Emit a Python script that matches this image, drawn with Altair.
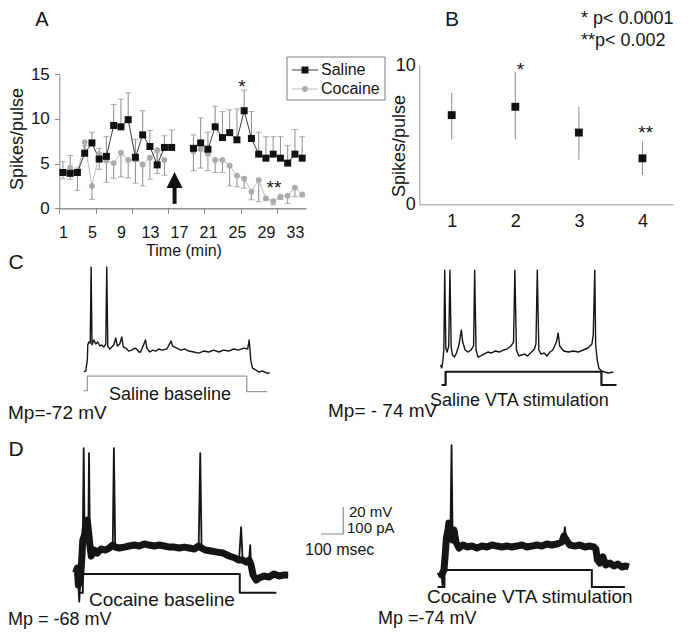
import altair as alt
import pandas as pd

FONT = "Liberation Sans"
INK = "#151515"
W, H, M = 672, 622, 8          # chart size and page margin
MS_PX, MV_PX, PA_PX = 0.222, 1.35, 0.27   # px per ms / mV / pA in the trace panels

# ---------------- Panel A: spikes per pulse over time ----------------
minutes = list(range(1, 35))
saline = [4.0, 3.9, 4.0, 6.15, 7.3, 5.5, 5.8, 9.25, 9.1, 9.9, 5.7, 8.2, 6.9, 4.85, 6.8, 6.8, None, None,
          6.7, 7.3, 6.6, 9.1, 7.9, 8.45, 7.65, 10.9, 7.8, 6.05, 5.6, 6.05, 5.6, 5.05, 6.05, 5.6]
saline_hi = [5.2, 5.9, 4.5, 7.0, 8.5, 6.7, 8.0, 11.6, 12.2, 12.9, 7.7, 10.9, 8.7, 6.3, 8.1, 8.75, None, None,
             8.2, 10.1, 8.5, 11.4, 10.8, 11.0, 11.1, 13.2, 10.8, 8.5, 8.0, 8.0, 8.0, 7.0, 8.8, 8.0]
cocaine = [4.0, 4.5, 4.0, 7.4, 2.5, 6.05, 5.3, 5.05, 6.2, 5.4, 5.45, 4.9, 5.65, 6.5, 5.4, None, None, None,
           6.35, 6.6, 6.1, 5.4, 5.4, 4.75, 3.65, 3.3, 1.85, 3.15, 1.1, 0.8, 1.3, 1.4, 2.3, 1.55]
cocaine_lo = [3.3, 3.25, 2.0, 6.2, 1.0, 4.35, 2.9, 3.35, 3.5, 3.4, 2.8, 2.5, 3.25, 3.9, 3.7, None, None, None,
              4.2, 4.5, 4.2, 4.0, 4.0, 2.5, 2.4, 2.25, 0.95, 0.75, 0.9, 0.4, 1.0, 0.55, 1.3, 1.3]
a_tick_labels = [1, 5, 9, 13, 17, 21, 25, 29, 33]
a_tick_marks = [0.5, 5.5, 10.5, 15.5, 20.5, 25.5, 30.5]
a_y_ticks = [0, 5, 10, 15]
a_stars = {"x": [25.7, 30.1], "y": [14.0, 2.7], "s": ["*", "**"]}
arrow = {"x": [16.4], "base": [0.5], "top": [2.4], "head": [3.15]}
legend_series = ["Saline", "Cocaine"]

# ---------------- Panel B ----------------
b_cond = [1, 2, 3, 4]
b_mean = [6.4, 7.0, 5.15, 3.3]
b_lo = [4.65, 4.65, 3.2, 2.1]
b_hi = [8.0, 9.5, 7.0, 4.5]
b_stars = {"x": [2.08, 4.05], "y": [9.9, 5.4], "s": ["*", "**"]}
p_values = ["* p< 0.0001", "**p< 0.002"]

# ---------------- Panels C, D: recordings (t ms, mV) ----------------
c_left = [(0, -72), (9, -71.5), (16, -63.3), (18, -52.2), (22.5, -50), (29, -50.8), (33, 5.5), (37, -52.2),
          (45, -48.5), (54, -51.5), (63, -50), (72, -53), (81, -52.2), (90, -53.7), (99, -51.5), (103.5, 5.5),
          (108, -53), (117, -55.2), (126, -53.7), (135, -52.2), (144, -47), (151, -53), (162, -51.5),
          (171, -46.3), (178, -53.7), (189, -54.5), (202, -56.7), (216, -56), (230, -54.5), (238, -55.2),
          (248, -57.4), (256, -57.4), (278, -48.5), (284, -54.5), (297, -57.4), (310, -56), (324, -56.7),
          (338, -55.2), (351, -56), (374, -55.2), (393, -49.3), (400, -53), (419, -54.5), (437, -56),
          (455, -55.2), (473, -56.7), (495, -57.4), (518, -58.2), (540, -56.7), (563, -57.4), (585, -56),
          (608, -57.4), (630, -56), (653, -56.7), (675, -55.2), (698, -56), (720, -54.5), (738, -55.2),
          (745, -48.5), (747, -52.2), (752, -63.3), (760, -69.3), (774, -70.7), (788, -72.2), (806, -71.5),
          (824, -73), (837, -73)]
c_left_current = [(-2, 0), (16, 0), (16, 54), (734, 54), (734, -3.7), (826, -3.7)]

c_right = [(0, -74), (6, -76.2), (11, -70.3), (15, -62.9), (19, -3.7), (24, -61.4), (30, -64.4), (37, -59.9),
           (42.5, -3.7), (48, -60.7), (54, -66.6), (63, -68.1), (72, -65.1), (83, -59.2), (94, -48.1),
           (100, -57), (111, -62.9), (125, -64.4), (137, -62.9), (149, -59.9), (154, -3.7), (160, -62.9),
           (169, -68.1), (181, -67.3), (195, -65.9), (213, -64.4), (230, -65.1), (248, -63.6), (265, -64.4),
           (283, -62.9), (300, -62.2), (318, -59.9), (329, -57), (335, -3.7), (342, -62.9), (353, -67.3),
           (366, -66.6), (379, -65.9), (392, -67.3), (410, -64.4), (423, -62.2), (430, -58.5), (436, -3.7),
           (443, -62.9), (453, -65.9), (467, -65.1), (480, -67.3), (493, -64.4), (506, -62.9), (522, -57),
           (530, -50.3), (537, -59.9), (555, -63.6), (576, -64.4), (599, -63.6), (620, -64.4), (643, -62.9),
           (664, -61.4), (682, -58.5), (688, -51.8), (695, -3.7), (699, -59.2), (706, -70.3), (713, -76.2),
           (725, -78.4), (739, -79.2), (757, -79.9), (778, -79.2)]
c_right_current = [(5, 0), (23, 0), (23, 49), (725, 49), (725, 0), (793, 0)]

d_left = [(0, -68), (7, -64.3), (12, -76.9), (16, -89.2), (21, -73.2), (27, -58.4), (32, -43.6), (36, 24.5),
          (40, -39.9), (45, -32.5), (52, -28.8), (57, -36.2), (60, 20.8), (64, -47.3), (70, -55.4), (84, -51),
          (97, -53.2), (115, -50.2), (133, -51), (151, -49.5), (167, -47.3), (172, 24.5), (178, -48.8),
          (196, -49.5), (219, -48.8), (241, -48), (264, -47.3), (286, -48), (309, -46.5), (331, -47.3),
          (354, -48), (376, -47.3), (399, -48), (421, -48.8), (444, -48.8), (466, -49.5), (489, -48.8),
          (511, -49.5), (534, -50.2), (554, -48), (561, 20.8), (567, -49.5), (583, -51), (610, -51.7),
          (637, -52.5), (664, -53.2), (691, -55.4), (718, -56.9), (736, -58.4), (745, -34), (752, -58.4),
          (768, -59.9), (781, -58.4), (786, -47.3), (790, -62.1), (799, -69.5), (813, -73.2), (826, -71.7),
          (848, -70.2), (871, -71), (893, -68.7), (916, -70.2), (939, -69.5), (957, -69.5)]
d_left_spikes = [16, 36, 60, 172, 561, 745, 786]
d_left_current = [(13, 0), (32, 0), (32, 69), (739, 69), (739, 0), (904, 0)]

d_right = [(0, -74), (7, -76.4), (12, -85.1), (18, -72.7), (25, -57.9), (29, -49.1), (36, -43.1), (40, -38),
           (47, -46.8), (52, 19.8), (57, -50.5), (63, -43.1), (72, -52), (85.5, -56.5), (103.5, -54.2),
           (121.5, -55.7), (144, -55), (166.5, -56.5), (189, -55), (211.5, -55.7), (234, -54.2), (256.5, -55),
           (279, -55.7), (301.5, -55), (324, -55.7), (346.5, -55), (369, -54.2), (391.5, -55.7), (414, -55),
           (436.5, -54.2), (459, -55), (481.5, -53.5), (504, -54.2), (526.5, -53.5), (549, -52), (558, -47.6),
           (562.5, -41), (569, -50.5), (585, -54.2), (607.5, -55), (630, -54.2), (652.5, -55.7), (675, -55),
           (693, -55.7), (702, -57.2), (709, -65.3), (720, -67.6), (733.5, -63.1), (747, -69), (765, -67.6),
           (783, -69.8), (801, -68.3), (819, -70.5), (837, -69.8), (850.5, -70.5)]
d_right_spikes = [12, 52, 562.5]
d_right_current = [(-11, 0), (20, 0), (20, 63), (684, 63), (684, 0), (833, 0)]

scale_bar = [(0, 0), (100, 0), (100, 20)]   # 100 msec, 20 mV / 100 pA
scale_labels = ["20 mV", "100 pA", "100 msec"]
trace_labels = ["Saline baseline", "Saline VTA stimulation", "Cocaine baseline", "Cocaine VTA  stimulation"]
mp_labels = ["Mp=-72 mV", "Mp= - 74 mV", "Mp = -68 mV", "Mp =-74 mV"]
panel_letters = ["A", "B", "C", "D"]


def sc(dom, lo, hi):
    return alt.Scale(domain=dom, range=[lo - M, hi - M], nice=False, zero=False)


def txt(s, x, y, size=18, align="left", angle=0, color=INK):
    return alt.Chart(pd.DataFrame({"s": [s]})).mark_text(
        align=align, baseline="middle", fontSize=size, font=FONT, angle=angle, color=color
    ).encode(text="s:N", x=alt.value(x - M), y=alt.value(y - M))


layers = []

# ---------- Panel A ----------
dfA = pd.DataFrame({"minute": minutes, "saline": saline, "saline_hi": saline_hi,
                    "cocaine": cocaine, "cocaine_lo": cocaine_lo})
dfA["seg"] = (dfA["minute"] > 17).astype(int)
AXs = sc([0.5, 34.5], 59.3, 305.8)
AYs = sc([0, 15], 208.3, 74)
bA = alt.Chart(dfA)


def xa(axis=None):
    return alt.X("minute:Q", scale=AXs, axis=axis)


def ya(f, axis=None):
    return alt.Y(f"{f}:Q", scale=AYs, axis=axis)


ERR = "#8c8c8c"
COC = "#ababab"
layers += [
    bA.transform_filter("isValid(datum.cocaine)").mark_rule(color=ERR, strokeWidth=1).encode(
        x=xa(), y=ya("cocaine_lo"), y2="cocaine:Q"),
    bA.transform_filter("isValid(datum.cocaine)").mark_tick(orient="horizontal", size=6, thickness=1, color=ERR).encode(
        x=xa(), y=ya("cocaine_lo")),
    bA.transform_filter("isValid(datum.saline)").mark_rule(color=ERR, strokeWidth=1).encode(
        x=xa(), y=ya("saline"), y2="saline_hi:Q"),
    bA.transform_filter("isValid(datum.saline)").mark_tick(orient="horizontal", size=6, thickness=1, color=ERR).encode(
        x=xa(), y=ya("saline_hi")),
    bA.transform_filter("isValid(datum.cocaine)").mark_line(color="#bdbdbd", strokeWidth=1).encode(
        x=xa(), y=ya("cocaine"), detail="seg:N"),
    bA.transform_filter("isValid(datum.saline)").mark_line(color="#3a3a3a", strokeWidth=1).encode(
        x=xa(), y=ya("saline"), detail="seg:N"),
    bA.transform_filter("isValid(datum.cocaine)").mark_point(shape="circle", filled=True, size=34, color=COC, opacity=1).encode(
        x=xa(), y=ya("cocaine")),
    bA.transform_filter("isValid(datum.saline)").mark_point(shape="square", filled=True, size=49, color="#111111", opacity=1).encode(
        x=xa(alt.Axis(orient="bottom", offset=208.3 - M - H, values=a_tick_labels, ticks=False, labelPadding=16,
                      labelFontSize=16, labelFont=FONT, labelColor=INK, labelFlush=False, domainColor="#8a8a8a",
                      grid=False, title=None)),
        y=ya("saline", alt.Axis(orient="left", offset=-(59.3 - M), values=a_y_ticks, tickSize=5, tickColor="#8a8a8a",
                                domainColor="#8a8a8a", labelFontSize=17, labelFont=FONT, labelColor=INK,
                                labelPadding=5, labelFlush=False, grid=False, title=None))),
    bA.mark_point(opacity=0).encode(
        x=xa(alt.Axis(orient="bottom", offset=208.3 - M - H, values=a_tick_marks, labels=False, tickSize=5,
                      tickColor="#8a8a8a", domainColor="#8a8a8a", grid=False, title=None)),
        y=ya("cocaine")),
]
dfArrow = pd.DataFrame(arrow)
bAr = alt.Chart(dfArrow)
layers += [
    bAr.mark_rule(color="#111", strokeWidth=4).encode(
        x=alt.X("x:Q", scale=AXs, axis=None), y=alt.Y("base:Q", scale=AYs, axis=None), y2="top:Q"),
    bAr.mark_point(shape="M0,-1L-1,1L1,1Z", filled=True, size=256, color="#111", opacity=1).encode(
        x=alt.X("x:Q", scale=AXs, axis=None), y=alt.Y("head:Q", scale=AYs, axis=None)),
    alt.Chart(pd.DataFrame(a_stars)).mark_text(fontSize=19, font=FONT, color=INK, baseline="middle", dy=4).encode(
        x=alt.X("x:Q", scale=AXs, axis=None), y=alt.Y("y:Q", scale=AYs, axis=None), text="s:N"),
]
layers += [txt("Spikes/pulse", 18, 139, 18, "center", 270), txt("Time (min)", 184, 251, 16, "center")]

# legend
layers.append(alt.Chart(pd.DataFrame({"a": [0]})).mark_rect(fill="white", stroke="#7a7a7a", strokeWidth=1).encode(
    x=alt.value(287 - M), x2=alt.value(385 - M), y=alt.value(57 - M), y2=alt.value(100 - M)))
leg_style = {"Saline": ("#3a3a3a", "square", "#111111", 49), "Cocaine": ("#bdbdbd", "circle", COC, 34)}
for k, name in enumerate(legend_series):
    yy = 70 + 19 * k
    lc, shp, pc, sz = leg_style[name]
    one = alt.Chart(pd.DataFrame({"s": [name]}))
    layers += [
        one.mark_rule(color=lc, strokeWidth=1).encode(x=alt.value(292 - M), x2=alt.value(318 - M), y=alt.value(yy - M)),
        one.mark_point(shape=shp, filled=True, size=sz, color=pc, opacity=1).encode(
            x=alt.value(305 - M), y=alt.value(yy - M)),
        one.mark_text(align="left", baseline="middle", fontSize=16, font=FONT, color=INK).encode(
            text="s:N", x=alt.value(321 - M), y=alt.value(yy - M)),
    ]

# ---------- Panel B ----------
dfB = pd.DataFrame({"cond": b_cond, "mean": b_mean, "lo": b_lo, "hi": b_hi})
BXs = sc([0.49, 4.48], 419.3, 673)
BYs = sc([0, 10], 204.3, 65)
bB = alt.Chart(dfB)
layers += [
    bB.mark_rule(color="#8a8a8a", strokeWidth=1).encode(
        x=alt.X("cond:Q", scale=BXs, axis=None), y=alt.Y("lo:Q", scale=BYs, axis=None), y2="hi:Q"),
    bB.mark_point(shape="square", filled=True, size=62, color="#111111", opacity=1).encode(
        x=alt.X("cond:Q", scale=BXs,
                axis=alt.Axis(orient="bottom", offset=204.3 - M - H, values=b_cond, ticks=False, labelPadding=8,
                              labelFontSize=18, labelFont=FONT, labelColor=INK, labelFlush=False,
                              domainColor="#9a9a9a", grid=False, title=None)),
        y=alt.Y("mean:Q", scale=BYs,
                axis=alt.Axis(orient="left", offset=-(419.3 - M), values=[0, 10], ticks=False, labelPadding=4,
                              labelFontSize=18, labelFont=FONT, labelColor=INK, labelFlush=False,
                              domainColor="#9a9a9a", grid=False, title=None))),
    alt.Chart(pd.DataFrame(b_stars)).mark_text(fontSize=19, font=FONT, color=INK, baseline="middle", dy=4).encode(
        x=alt.X("x:Q", scale=BXs, axis=None), y=alt.Y("y:Q", scale=BYs, axis=None), text="s:N"),
    txt("Spikes/pulse", 400, 146, 18, "center", 270),
    txt(p_values[0], 581, 19, 18), txt(p_values[1], 581, 41, 18),
]


# ---------- Panels C, D ----------
def trace(pairs, x0, y0, v0, per_px, color=INK, width=1.3, spikes=None, band=0):
    df = pd.DataFrame(pairs, columns=["t", "v"])
    df["i"] = range(len(df))
    df["spike"] = df["t"].isin(spikes or [])
    xs = sc([0, 1000], x0, x0 + 1000 * MS_PX)
    ys = sc([v0, v0 + 100], y0, y0 - 100 * per_px)
    enc = dict(x=alt.X("t:Q", scale=xs, axis=None), y=alt.Y("v:Q", scale=ys, axis=None), order="i:Q")
    out = []
    if band:
        out.append(alt.Chart(df).transform_filter("!datum.spike").mark_line(
            color=color, strokeWidth=band, strokeJoin="round").encode(**enc))
    out.append(alt.Chart(df).mark_line(color=color, strokeWidth=width, strokeJoin="round").encode(**enc))
    return out


layers += trace(c_left_current, 83.8, 390.7, 0, PA_PX, color="#9a9a9a", width=1.3)
layers += trace(c_left, 83.8, 371.7, -72, MV_PX, width=1.4)
layers += trace(c_right_current, 440.5, 385, 0, PA_PX, width=2.2)
layers += trace(c_right, 440.5, 365, -74, MV_PX, width=1.4)
layers += trace(d_left_current, 75.7, 592.7, 0, PA_PX, width=2.0)
layers += trace(d_left, 75.7, 573, -68, MV_PX, width=1.8, spikes=d_left_spikes, band=7)
layers += trace(d_right_current, 440, 587, 0, PA_PX, width=2.0)
layers += trace(d_right, 440, 571.7, -74, MV_PX, width=1.8, spikes=d_right_spikes, band=7)
layers += trace(scale_bar, 321, 534, 0, MV_PX, color="#8a8a8a", width=1.2)

layers += [
    txt(scale_labels[0], 349, 512, 15), txt(scale_labels[1], 347, 528, 15), txt(scale_labels[2], 305, 550, 16),
    txt(trace_labels[0], 170, 395, 18, "center"), txt(trace_labels[1], 430, 401, 18),
    txt(trace_labels[2], 89, 600, 19), txt(trace_labels[3], 427, 597, 19),
    txt(mp_labels[0], 8, 413, 19), txt(mp_labels[1], 328, 411, 19),
    txt(mp_labels[2], 8, 620, 18), txt(mp_labels[3], 378, 619, 18),
    txt(panel_letters[0], 42, 20, 20, "center"), txt(panel_letters[1], 452, 20, 21, "center"),
    txt(panel_letters[2], 16, 263, 21, "center"), txt(panel_letters[3], 16, 450, 21, "center"),
]

chart = alt.layer(*layers).resolve_scale(x="independent", y="independent").properties(
    width=W, height=H, autosize=alt.AutoSizeParams(type="none"), padding=0
).configure(font=FONT).configure_view(stroke=None)

chart.save("out.html", embed_options={"renderer": "svg", "actions": False})
